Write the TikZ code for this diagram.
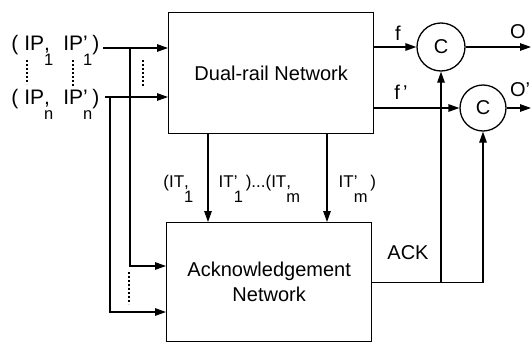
\documentclass[tikz,border=0pt]{standalone}
\usepackage{fontspec}
\setmainfont{Liberation Sans}
\usetikzlibrary{arrows.meta}

% symbol with a mark on the baseline and an index set low beneath it
\newcommand\stk[2]{\ooalign{#1\cr\raisebox{-15.5pt}{\fontsize{16.5}{16.5}\selectfont #2}\cr}}

\begin{document}
\begin{tikzpicture}[x=1pt,y=-1pt,line width=1.3pt,
  arr/.style={-{Triangle[length=11pt,width=7.5pt]}},
  boxnode/.style={draw,inner sep=0pt,align=center,font=\fontsize{20}{25}\selectfont},
  gate/.style={draw,circle,inner sep=0pt,font=\fontsize{20}{20}\selectfont},
  lbl/.style={inner sep=0pt,font=\fontsize{20}{20}\selectfont},
  sig/.style={inner sep=0pt,font=\fontsize{21}{21}\selectfont},
  itl/.style={inner sep=0pt,font=\fontsize{17}{17}\selectfont},
  dots/.style={line width=2pt,dash pattern=on 1.6pt off 2.4pt}]
\useasboundingbox (0,0) rectangle (532,343);

% the two networks
\node[boxnode,minimum width=205pt,minimum height=121pt,anchor=north west] (dual) at (168,12) {Dual-rail Network};
\node[boxnode,minimum width=205pt,minimum height=119pt,anchor=north west] (ack) at (166,222) {Acknowledgement\\Network};

% C-elements
\node[gate,minimum size=48pt] (c1) at (441,47) {C};
\node[gate,minimum size=46pt] (c2) at (483,108) {C};

% primary inputs
\node[sig,anchor=base east] (in1) at (100,50) {( IP\stk{,}{1}\hspace{10pt}IP\stk{'}{1})};
\node[sig,anchor=base east] (in2) at (100,104) {( IP\stk{,}{n}\hspace{10pt}IP\stk{'}{n})};
\draw[dots] (27,60) -- (27,84);
\draw[dots] (73,60) -- (73,86);

\coordinate (s1) at (103,48);
\coordinate (s2) at (105,97);
\coordinate (b1) at (130,48);
\coordinate (b2) at (110,97);
\coordinate (a1) at (ack.west |- 0,266);
\coordinate (a2) at (ack.west |- 0,312);
\draw[arr] (s1) -- (s1 -| dual.west);
\draw[arr] (s2) -- (s2 -| dual.west);
\draw[arr] (b1) |- (a1);
\draw[arr] (b2) |- (a2);
\draw[dots] (143,60) -- (143,86);
\draw[dots] (129,272) -- (129,304);

% internal signals
\coordinate (x1) at (208,0);
\coordinate (x2) at (327,0);
\draw[arr] (x1 |- dual.south) -- (x1 |- ack.north);
\draw[arr] (x2 |- dual.south) -- (x2 |- ack.north);
\node[itl,anchor=base east] (it1) at (194,187) {(IT\stk{,}{1}};
\node[itl,anchor=base west] (it2) at (218,187) {IT\stk{'}{1}\,)...(IT\stk{,}{m}};
\node[itl,anchor=base west] (it3) at (338,187) {IT\stk{'}{m}\,)};

% outputs
\draw[arr] (dual.east |- c1) -- (c1);
\draw[arr] (dual.east |- c2) -- (c2);
\coordinate (o1) at (531,47);
\coordinate (o2) at (531,108);
\draw[arr] (c1) -- (o1);
\draw[arr] (c2) -- (o2);
\node[lbl] (fl) at (398,33) {f};
\node[lbl] (fpl) at (401,92) {f\,'};
\node[lbl] (ol) at (518,32) {O};
\node[lbl] (opl) at (520,90) {O'};

% acknowledge feedback
\coordinate (j) at (c1 |- ack.east);
\draw[arr] (ack.east) -| (c2.south);
\draw[arr] (j) -- (c1.south);
\node[lbl] (ackl) at (408,253) {ACK};
\end{tikzpicture}
\end{document}
